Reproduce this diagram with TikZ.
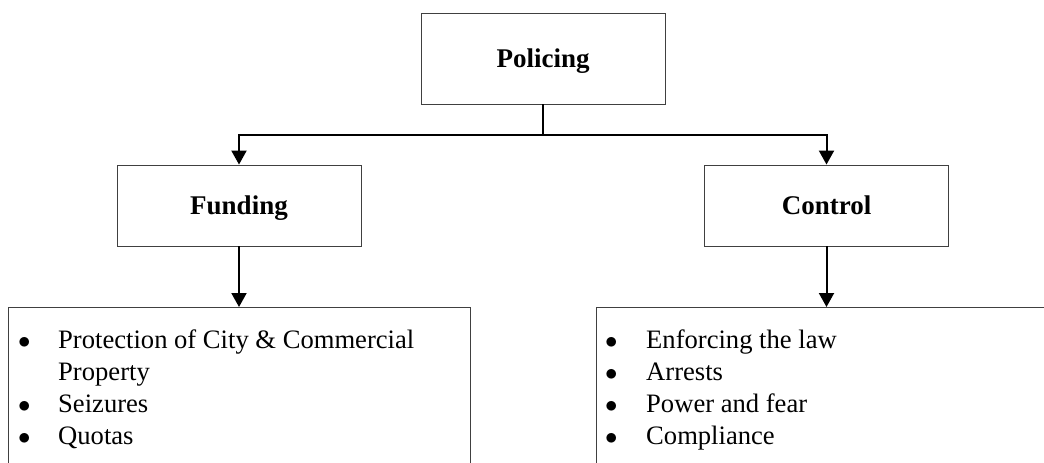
\documentclass[tikz,border=0pt]{standalone}
\usepackage{fontspec}
\setmainfont{Liberation Serif}
\usetikzlibrary{arrows.meta}
\begin{document}
\begin{tikzpicture}[x=1pt,y=-1pt,
  box/.style={draw=black!75, line width=0.9pt, inner sep=0pt, minimum width=244pt,
    text height=20pt, text depth=3pt,
    font=\fontsize{27}{30}\selectfont\bfseries},
  conn/.style={line width=2pt, -{Triangle[width=15pt,length=14pt]}},
  trunk/.style={line width=2pt},
  openbox/.style={draw=black!75, line width=0.9pt},
  listtext/.style={inner sep=0pt, anchor=base west, font=\fontsize{26.6}{32}\selectfont}]
\useasboundingbox (0,0) rectangle (1044,463);
\node[box, minimum height=91pt] (pol) at (543,58.5) {Policing};
\node[box, minimum height=81pt] (fund) at (239,205.5) {Funding};
\node[box, minimum height=81pt] (ctrl) at (826.5,205.5) {Control};
\coordinate (j) at (543,135);
\coordinate (ltop) at (239,307);
\coordinate (rtop) at (826.5,307);
\draw[trunk] (pol.south) -- (j);
\draw[conn] (j) -| (fund.north);
\draw[conn] (j) -| (ctrl.north);
\draw[openbox] (8,463) -- (8,307) -- (470,307) -- (470,463);
\draw[openbox] (596,463) -- (596,307) -- (1044,307);
\draw[conn] (fund.south) -- (ltop);
\draw[conn] (ctrl.south) -- (rtop);
\node[listtext] (llist) at (18,348) {\begin{tabular}[t]{@{}p{40pt}@{}l@{}}
$\bullet$ & Protection of City \& Commercial\\
  & Property\\
$\bullet$ & Seizures\\
$\bullet$ & Quotas
\end{tabular}};
\node[listtext] (rlist) at (605,348) {\begin{tabular}[t]{@{}p{41pt}@{}l@{}}
$\bullet$ & Enforcing the law\\
$\bullet$ & Arrests\\
$\bullet$ & Power and fear\\
$\bullet$ & Compliance
\end{tabular}};
\end{tikzpicture}
\end{document}
